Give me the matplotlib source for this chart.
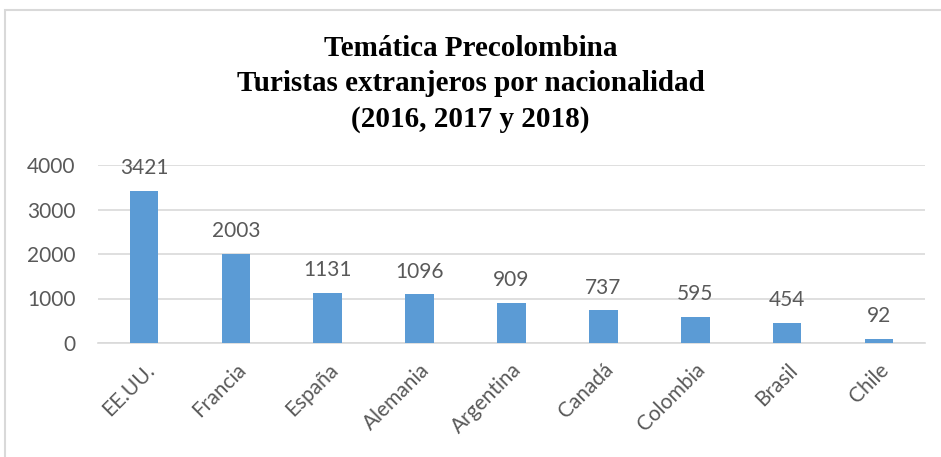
import matplotlib.pyplot as plt
from matplotlib.patches import Rectangle

# data
paises = ['EE.UU.', 'Francia', 'España', 'Alemania', 'Argentina', 'Canadá', 'Colombia', 'Brasil', 'Chile']
turistas = [3421, 2003, 1131, 1096, 909, 737, 595, 454, 92]
yticks = [0, 1000, 2000, 3000, 4000]

gris = '#595959'
azul = '#5b9bd5'

fig = plt.figure(figsize=(9.41, 4.57), dpi=100)
ax = fig.add_axes([98 / 941, 1 - 343 / 457, 827 / 941, 178 / 457])

# chart border
fig.patches.append(Rectangle((5 / 941, -0.1), 1.1, 1 - 10 / 457 + 0.1, transform=fig.transFigure,
                             fill=False, edgecolor='#d9d9d9', linewidth=1.5))

x = range(len(paises))
bars = ax.bar(x, turistas, width=0.31, color=azul, zorder=3)
for xi, v in zip(x, turistas):
    ax.annotate(str(v), (xi, v), xytext=(0, 9), textcoords='offset points',
                ha='center', va='bottom', fontsize=15, color=gris, family='Lato')

ax.set_xlim(-0.5, len(paises) - 0.5)
ax.set_ylim(0, 4000)
ax.set_yticks(yticks)
ax.set_xticks(list(x))
ax.set_xticklabels(paises, rotation=45, ha='right', rotation_mode='anchor')
ax.tick_params(axis='both', length=0, colors=gris, labelsize=15)
ax.tick_params(axis='y', pad=16)
ax.tick_params(axis='x', pad=12)
for lbl in ax.get_xticklabels() + ax.get_yticklabels():
    lbl.set_family('Lato')
ax.grid(axis='y', color='#d9d9d9', linewidth=1.2, zorder=0)
for s in ['top', 'right', 'left']:
    ax.spines[s].set_visible(False)
ax.spines['bottom'].set_color('#d9d9d9')
ax.spines['bottom'].set_linewidth(1.2)

fig.text(0.5, 1 - 84 / 457, 'Temática Precolombina\nTuristas extranjeros por nacionalidad\n(2016, 2017 y 2018)',
         ha='center', va='center', fontsize=21, fontweight='bold', family='Liberation Serif',
         linespacing=1.4, color='black')

fig.savefig('out.png', dpi=100)
